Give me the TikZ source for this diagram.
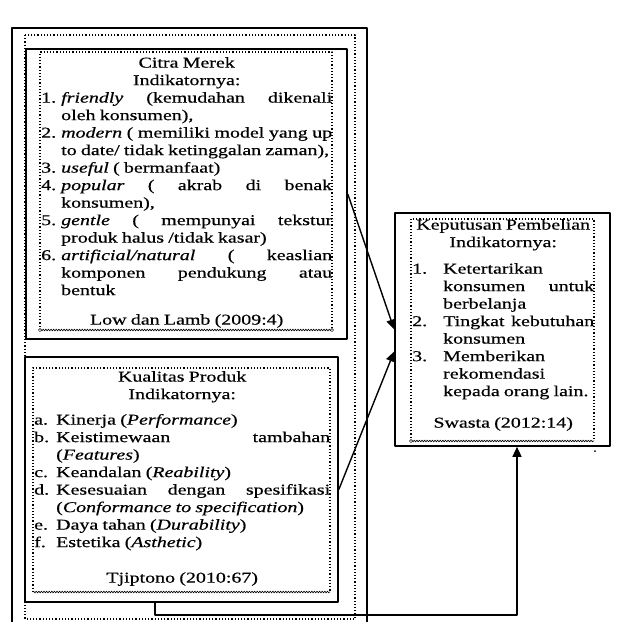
\documentclass[tikz,border=0pt]{standalone}
\usepackage{fontspec}
\setmainfont{Liberation Serif}[FakeStretch=1.33,WordSpace=0.85,FakeBold=0.5]
\usetikzlibrary{arrows.meta,decorations.pathmorphing}
% numbered line with hanging indent
\newcommand\itm[3][20pt]{\par\hangindent=#1\hangafter=1\noindent\makebox[#1][l]{#2}#3\par}
\tikzset{
  every picture/.style={line join=round},
  outerbox/.style={draw, line width=1.8pt},
  solidbox/.style={draw, line width=1.6pt, inner sep=0pt},
  dotframe/.style={dotted, line width=1.2pt},
  wavy/.style={decorate, decoration={zigzag, amplitude=0.9pt, segment length=2.6pt}, line width=0.6pt},
  handle/.style={draw, fill=white, line width=0.5pt},
  txt/.style={anchor=north west, inner sep=0pt, align=justify,
    font=\fontsize{15}{17.5}\selectfont,
    execute at begin node={\parindent=0pt\hbadness=10000\hfuzz=4pt\hyphenpenalty=10000}},
  conn/.style={line width=1.4pt},
  arr/.style={conn, -{Triangle[length=10pt,width=9pt]}},
}
\begin{document}
\begin{tikzpicture}[x=1pt,y=-1pt]
\useasboundingbox (0,0) rectangle (617,622);
% frames round the two left boxes
\draw[outerbox] (12,28) rectangle (367,640);
\draw[dotframe] (25,35) rectangle (355,619);
% boxes
\node[solidbox, minimum width=321pt, minimum height=290pt] (citraBox) at (186.5,194) {};
\node[solidbox, minimum width=313pt, minimum height=245pt] (kualitasBox) at (181.5,479.5) {};
\node[solidbox, minimum width=215pt, minimum height=233pt] (keputusanBox) at (502.5,329.5) {};
\draw[dotframe] (40,330) |- (332,52) -- (332,330);
\draw[wavy] (40,330) -- (332,330);
\draw[dotframe] (33,592) |- (330,368) -- (330,592);
\draw[wavy] (33,592) -- (330,592);
\draw[dotframe] (411,441) |- (594,219) -- (594,441);
\draw[wavy] (411,441) -- (594,441);
\draw[handle] (40,330) circle (1.6) (332,330) circle (1.6) (411,441) circle (1.6);
\fill (595,451) circle (1);
% texts
\node[txt, text width=291pt] (citra) at (41,57) {%
{\centering Citra Merek\par Indikatornya:\par}
\itm{1.}{\textit{friendly} (kemudahan dikenali\linebreak oleh konsumen),}
\itm{2.}{\textit{modern} ( memiliki model yang up\linebreak to date/ tidak ketinggalan zaman),}
\itm{3.}{\textit{useful} ( bermanfaat)}
\itm{4.}{\textit{popular} ( akrab di benak\linebreak konsumen),}
\itm{5.}{\textit{gentle} ( mempunyai tekstur\linebreak produk halus /tidak kasar)}
\itm{6.}{\textit{artificial/natural} ( keaslian\linebreak komponen pendukung atau\linebreak bentuk}
\vspace{12pt}
{\centering Low dan Lamb (2009:4)\par}};
\node[txt, text width=296pt] (kualitas) at (34,371) {%
{\centering Kualitas Produk\par Indikatornya:\par}
\vspace{8pt}
\itm[22pt]{a.}{Kinerja (\textit{Performance})}
\itm[22pt]{b.}{Keistimewaan tambahan\linebreak (\textit{Features})}
\itm[22pt]{c.}{Keandalan (\textit{Reability})}
\itm[22pt]{d.}{Kesesuaian dengan spesifikasi\linebreak (\textit{Conformance to specification})}
\itm[22pt]{e.}{Daya tahan (\textit{Durability})}
\itm[22pt]{f.}{Estetika (\textit{Asthetic})}
\vspace{18pt}
{\centering Tjiptono (2010:67)\par}};
\node[txt, text width=182pt] (keputusan) at (412,219) {%
{\centering Keputusan Pembelian\par Indikatornya:\par}
\vspace{9pt}
\itm[31pt]{1.}{Ketertarikan\linebreak konsumen untuk\linebreak berbelanja}
\itm[31pt]{2.}{Tingkat kebutuhan\linebreak konsumen}
\itm[31pt]{3.}{Memberikan\linebreak rekomendasi\linebreak kepada orang lain.}
\vspace{14pt}
{\centering Swasta (2012:14)\par}};
% connectors
\draw[arr] (citraBox.east) -- (keputusanBox.west);
\draw[arr] ([yshift=-10pt]kualitasBox.east) -- ([yshift=-22pt]keputusanBox.west);
\draw[arr] ([xshift=-26.5pt]kualitasBox.south) -- ++(0,12) -| ([xshift=14.5pt]keputusanBox.south);
\end{tikzpicture}
\end{document}
